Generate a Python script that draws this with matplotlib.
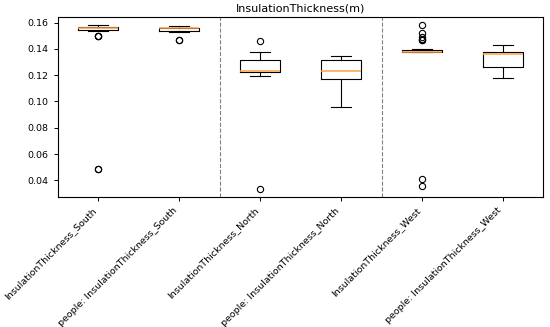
import numpy as np
import matplotlib.pyplot as plt

labels = [
    "InsulationThickness_South",
    "people: InsulationThickness_South",
    "InsulationThickness_North",
    "people: InsulationThickness_North",
    "InsulationThickness_West",
    "people: InsulationThickness_West",
]

# box statistics
whislo = [0.1535, 0.1530, 0.1190, 0.0961, 0.1374, 0.1177]
q1 = [0.1547, 0.1535, 0.1226, 0.1173, 0.1374, 0.1263]
med = [0.1558, 0.1558, 0.1235, 0.1230, 0.1377, 0.1361]
q3 = [0.1568, 0.1562, 0.1316, 0.1318, 0.1394, 0.1379]
whishi = [0.1580, 0.1575, 0.1379, 0.1349, 0.1399, 0.1429]
fliers = [
    [0.1497, 0.1500, 0.1495, 0.0489, 0.0485],
    [0.1464, 0.1466],
    [0.1457, 0.0337],
    [],
    [0.1580, 0.1520, 0.1490, 0.1472, 0.1465, 0.1468, 0.0411, 0.0355],
    [],
]

stats = []
for i in range(len(labels)):
    stats.append({
        "label": labels[i], "whislo": whislo[i], "q1": q1[i], "med": med[i],
        "q3": q3[i], "whishi": whishi[i], "fliers": fliers[i],
    })

lw = 0.8
fig, ax = plt.subplots(figsize=(5.5, 3.27), dpi=100)
ax.bxp(stats, positions=range(1, 7), widths=0.5,
       boxprops=dict(linewidth=lw), whiskerprops=dict(linewidth=lw),
       capprops=dict(linewidth=lw),
       medianprops=dict(linewidth=1.1, color="#ff9f40"),
       flierprops=dict(markersize=4.5, markeredgewidth=lw))
for x in [2.5, 4.5]:
    ax.axvline(x, color="gray", linestyle="--", linewidth=0.8)

for s in ax.spines.values():
    s.set_linewidth(0.8)
ax.set_title("InsulationThickness(m)", fontsize=8, pad=4)
ax.tick_params(labelsize=6.8, width=0.7, length=3)
plt.setp(ax.get_xticklabels(), rotation=45, ha="right")
ax.set_xlim(0.5, 6.5)

fig.subplots_adjust(left=0.105, right=0.988, top=0.948, bottom=0.398)
fig.savefig("out.png", dpi=100)
